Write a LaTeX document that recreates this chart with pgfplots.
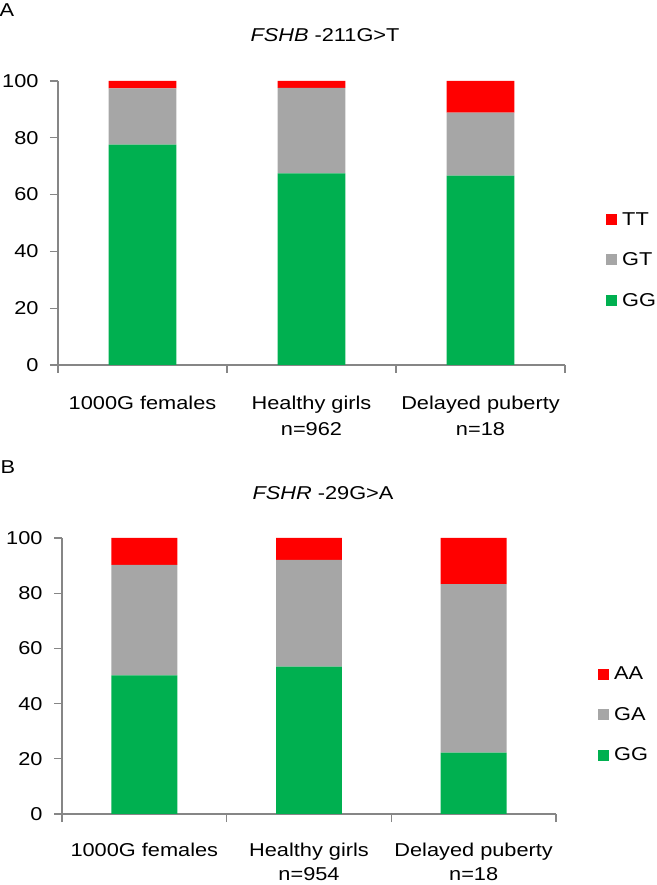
\documentclass[border=0pt]{standalone}
\usepackage{pgfplots}
\pgfplotsset{compat=1.18}
\usepackage{fontspec}
\setmainfont{Liberation Sans}[FakeStretch=1.17]
\definecolor{cRed}{HTML}{FF0000}
\definecolor{cGray}{HTML}{A6A6A6}
\definecolor{cGreen}{HTML}{00B050}
\definecolor{axgray}{HTML}{868686}
\pgfplotsset{
  mybars/.style={
    scale only axis,
    anchor=south west,
    ybar stacked,
    bar width=0.4,
    xmin=0.5, xmax=3.5,
    ymin=0, ymax=100,
    axis lines*=left,
    axis line style={draw=axgray, line width=1.2pt},
    tick style={draw=axgray, line width=1.2pt},
    tick align=outside,
    major tick length=8pt,
    xtick={0.5,1.5,2.5,3.5},
    xticklabels={},
    ytick={0,20,40,60,80,100},
    /pgf/number format/assume math mode=true,
    ticklabel style={font=\fontsize{18.6}{22}\selectfont},
    yticklabel style={xshift=-8pt},
    extra x ticks={1,2,3},
    reverse legend,
    legend cell align=left,
    legend image code/.code={\fill[#1] (0pt,-5.5pt) rectangle (11pt,5.5pt); \path (14pt,0pt);},
    legend style={draw=none, fill=none, anchor=west, font=\fontsize{18.6}{22}\selectfont, row sep=22pt},
    every axis plot/.append style={draw=none},
  }
}
\begin{document}
\begin{tikzpicture}[x=1pt,y=1pt]
\useasboundingbox (0,0) rectangle (656,885);
\node[font=\fontsize{18.6}{22}\selectfont] at (7,875) {A};
\node[font=\fontsize{18.6}{22}\selectfont] at (8,418) {B};
\node[font=\fontsize{18.6}{22}\selectfont] at (325,850) {\textit{FSHB} -211G>T};
\node[font=\fontsize{18.6}{22}\selectfont] at (323,392) {\textit{FSHR} -29G>A};
\begin{axis}[mybars, at={(58pt,520pt)}, width=507pt, height=284pt,
  extra x tick style={major tick length=0pt, xticklabel style={align=center, yshift=-27pt, font=\fontsize{18.6}{26}\selectfont}},
  extra x tick labels={1000G females, {Healthy girls\\n=962}, {Delayed puberty\\n=18}},
  legend style={at={(1.075,0.37)}}]
\addplot[fill=cGreen] coordinates {(1,77.6) (2,67.5) (3,66.7)};
\addplot[fill=cGray] coordinates {(1,19.8) (2,30.1) (3,22.2)};
\addplot[fill=cRed] coordinates {(1,2.6) (2,2.4) (3,11.1)};
\legend{GG,GT,TT}
\end{axis}
\begin{axis}[mybars, at={(62pt,71pt)}, width=494pt, height=276pt,
  extra x tick style={major tick length=0pt, xticklabel style={align=center, yshift=-25pt, font=\fontsize{18.6}{24.5}\selectfont}},
  extra x tick labels={1000G females, {Healthy girls\\n=954}, {Delayed puberty\\n=18}},
  legend style={at={(1.079,0.36)}}]
\addplot[fill=cGreen] coordinates {(1,50.2) (2,53.4) (3,22.2)};
\addplot[fill=cGray] coordinates {(1,40.1) (2,38.7) (3,61.1)};
\addplot[fill=cRed] coordinates {(1,9.7) (2,7.9) (3,16.7)};
\legend{GG,GA,AA}
\end{axis}
\end{tikzpicture}
\end{document}
